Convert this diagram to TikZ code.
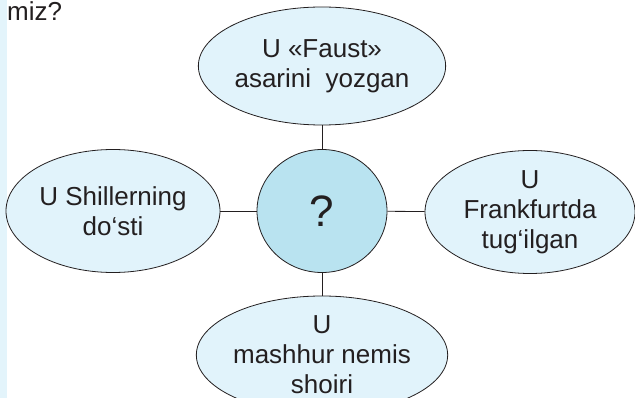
\documentclass[tikz,border=0pt]{standalone}
\usepackage{fontspec}
\setmainfont{Liberation Sans}
\usetikzlibrary{shapes.geometric}
\definecolor{txt}{HTML}{231F20}
\definecolor{pale}{HTML}{E1F3FB}
\definecolor{strip}{HTML}{E3F4FB}
\definecolor{core}{HTML}{B9E3F0}
\tikzset{
  bubble/.style={ellipse, draw=txt, line width=0.8pt, fill=pale, inner sep=0pt,
    minimum width=214pt, minimum height=118pt, align=center, text=txt,
    font=\fontsize{26}{30}\selectfont},
  hub/.style={ellipse, draw=txt, line width=0.8pt, fill=core, inner sep=0pt,
    minimum width=130pt, minimum height=123pt, text=txt,
    font=\fontsize{44}{50}\selectfont},
  link/.style={draw=txt, line width=0.8pt}
}
\begin{document}
\begin{tikzpicture}[x=1pt, y=-1pt]
\useasboundingbox (0,0) rectangle (635,398);
\fill[white] (0,0) rectangle (635,398);
\fill[strip] (0,0) rectangle (7,398);
\node[anchor=base west, text=txt, font=\fontsize{26}{31}\selectfont, inner sep=0pt] (q) at (7,21) {miz?};
\node[hub] (c) at (322,211) {?};
\node[bubble] (t) at (322,66) {U «Faust»\\asarini\ \ yozgan};
\node[bubble, minimum height=123pt] (l) at (113,211) {U Shillerning\\do‘sti};
\node[bubble, minimum height=123pt, minimum width=210pt] (r) at (530,212) {U\\Frankfurtda\\tug‘ilgan};
\node[bubble] (b) at (322,355) {U\\mashhur nemis\\shoiri};
\draw[link] (t) -- (c);
\draw[link] (l) -- (c);
\draw[link] (c) -- (r);
\draw[link] (c) -- (b);
\end{tikzpicture}
\end{document}
